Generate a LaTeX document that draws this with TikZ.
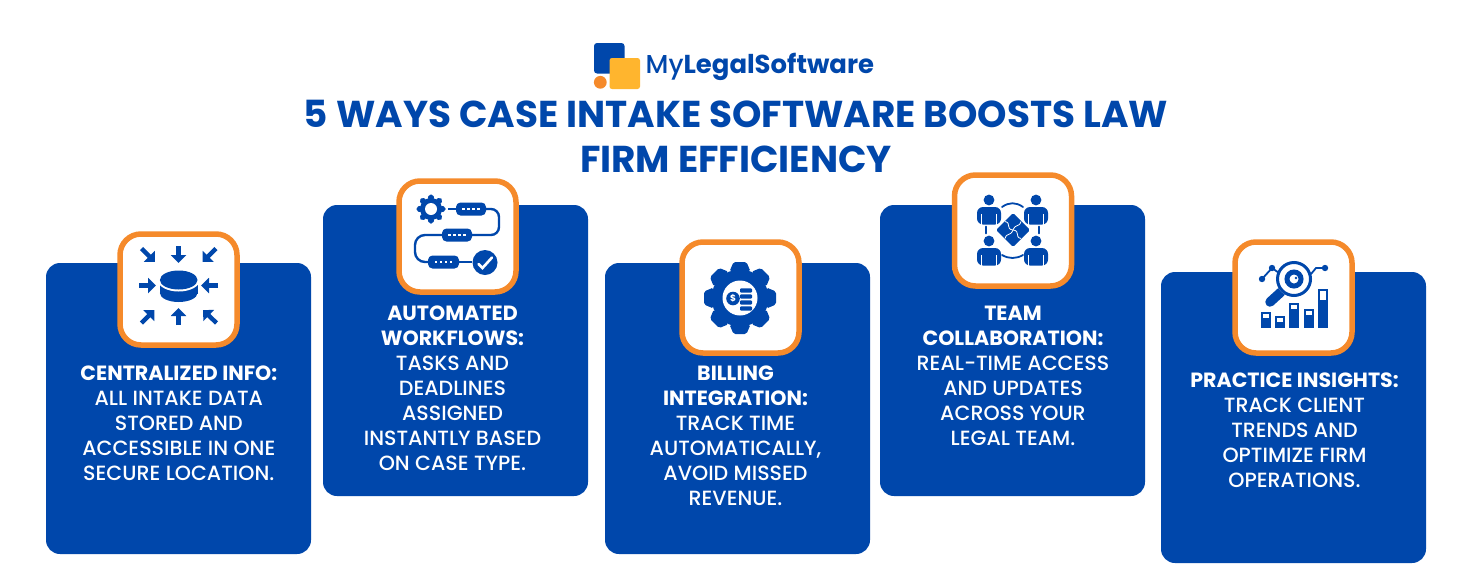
\documentclass[tikz,border=0pt]{standalone}
\usepackage{fontspec}
\setmainfont{Poppins}[UprightFont=*-Medium,BoldFont=*-Bold]
\usetikzlibrary{arrows.meta}
\definecolor{cobalt}{HTML}{0047AB}
\definecolor{ringor}{HTML}{F58A2B}
\definecolor{logoy}{HTML}{FFB52E}
\tikzset{
  x=1pt,y=-1pt,
  cardbox/.style={anchor=north west,inner sep=0pt,outer sep=0pt,fill=cobalt,rounded corners=14pt,minimum width=265pt,minimum height=291pt},
  iconbox/.style={anchor=north west,inner sep=0pt,outer sep=0pt,draw=ringor,fill=white,line width=5.5pt,rounded corners=21pt,minimum width=117pt,minimum height=111pt},
  cardtext/.style={text=white,align=center,inner sep=0pt,font=\fontsize{20.6}{25}\selectfont},
  icl/.style={draw=cobalt,line width=3pt},
  iar/.style={draw=cobalt,line width=4.4pt,-{Triangle[length=8pt,width=15pt,fill=cobalt]}},
  ithin/.style={draw=cobalt,line width=1.8pt,line cap=round},
  pill/.style={fill=cobalt,rounded corners=4.5pt},
}
\newcommand{\gearshape}[6]{% x y outer body basewidth tipwidth
  \fill[cobalt] (#1,#2) circle[radius=#4];
  \foreach \ang in {0,45,...,315}{
    \fill[cobalt,rotate around={\ang:(#1,#2)},rounded corners=1.8pt] (#1-#5/2,#2-#4+2) -- (#1-#6/2,#2-#3) -- (#1+#6/2,#2-#3) -- (#1+#5/2,#2-#4+2) -- cycle;
  }
}
\newcommand{\pillat}[3]{% x1 x2 y
  \fill[pill] (#1,#3-6.5) rectangle (#2,#3+6.5);
  \foreach \k in {0,1,2,3}{
    \fill[white] ({(#1+#2)/2-8.7+5*\k},#3-1.2) rectangle ++(2.4,2.4);
  }
}
\newcommand{\person}[2]{% head x, head y
  \fill[cobalt] (#1,#2) circle[radius=5.4];
  \fill[cobalt,rounded corners=6pt] (#1-12,#2+24.5) -- (#1-12,#2+7) -- (#1+12,#2+7) -- (#1+12,#2+24.5) -- cycle;
  \fill[white] (#1-7.6,#2+14) rectangle (#1-6.6,#2+25);
  \fill[white] (#1+6.6,#2+14) rectangle (#1+7.6,#2+25);
}
\newcommand{\barbox}[4]{% x1 x2 top window
  \fill[cobalt] (#1,#3) rectangle (#2,328);
  \fill[white] (#1+2,#3+2) rectangle (#2-2,#3+2+#4);
}
\begin{document}
\begin{tikzpicture}
\useasboundingbox (0,0) rectangle (1471,576);
\fill[white] (0,0) rectangle (1471,576);
% logo
\fill[cobalt,rounded corners=3pt] (594,43) rectangle (624.5,73.5);
\fill[logoy,rounded corners=2.5pt] (609.5,58) rectangle (640,89);
\fill[ringor] (600.3,82.3) circle[radius=6.4];
\node[anchor=west,inner sep=0pt,text=cobalt,font=\fontsize{25.9}{30}\selectfont] (brand) at (645.5,66.5) {My\textbf{LegalSoftware}};
% title
\node[text=cobalt,align=center,inner sep=0pt,font=\fontsize{37.4}{45}\selectfont\bfseries] (title) at (736,136.3) {5 WAYS CASE INTAKE SOFTWARE BOOSTS LAW\\FIRM EFFICIENCY};
% cards
\node[cardbox] (card1) at (46,263) {};
\node[cardbox] (card2) at (323,205) {};
\node[cardbox] (card3) at (605,263) {};
\node[cardbox] (card4) at (880,205) {};
\node[cardbox] (card5) at (1161,272) {};
% icon frames
\node[iconbox] (frame1) at (120,234) {};
\node[iconbox] (frame2) at (399,181) {};
\node[iconbox] (frame3) at (682,242) {};
\node[iconbox] (frame4) at (954.5,175) {};
\node[iconbox] (frame5) at (1235,242) {};
% texts
\node[cardtext] (text1) at (178.8,423) {\textbf{CENTRALIZED INFO:}\\ALL INTAKE DATA\\STORED AND\\ACCESSIBLE IN ONE\\SECURE LOCATION.};
\node[cardtext] (text2) at (452.5,388) {\textbf{AUTOMATED}\\\textbf{WORKFLOWS:}\\TASKS AND\\DEADLINES\\ASSIGNED\\INSTANTLY BASED\\ON CASE TYPE.};
\node[cardtext] (text3) at (735.5,435.5) {\textbf{BILLING}\\\textbf{INTEGRATION:}\\TRACK TIME\\AUTOMATICALLY,\\AVOID MISSED\\REVENUE.};
\node[cardtext] (text4) at (1013,375.5) {\textbf{TEAM}\\\textbf{COLLABORATION:}\\REAL-TIME ACCESS\\AND UPDATES\\ACROSS YOUR\\LEGAL TEAM.};
\node[cardtext] (text5) at (1294.5,430) {\textbf{PRACTICE INSIGHTS:}\\TRACK CLIENT\\TRENDS AND\\OPTIMIZE FIRM\\OPERATIONS.};
% icon 1
\draw[iar] (178.5,246) -- (178.5,263);
\draw[iar] (178.5,325) -- (178.5,308);
\draw[iar] (139,285.5) -- (156,285.5);
\draw[iar] (218,285.5) -- (201,285.5);
\draw[iar] (141.5,248.5) -- (155,262);
\draw[iar] (216,248.5) -- (202.5,262);
\draw[iar] (141.5,323) -- (154.5,310);
\draw[iar] (216.5,323) -- (203,310);
\fill[cobalt] (160,284) rectangle (197.5,294);
\fill[cobalt] (178.7,293) ellipse[x radius=18.8,y radius=9];
\fill[white] (178.7,280) ellipse[x radius=21,y radius=11.5];
\fill[cobalt] (178.7,280) ellipse[x radius=18.8,y radius=9.5];
% icon 2
\gearshape{431}{209}{14.5}{11}{7}{4.5}
\fill[white] (431,209) circle[radius=6];
\draw[icl,line width=2.2pt] (448,209) -- (456,209);
\draw[icl,line width=2.4pt,rounded corners=8pt] (486,209) -- (499,209) -- (499,235) -- (472,235);
\draw[icl,line width=2.4pt,rounded corners=10pt] (442,235) -- (415,235) -- (415,262) -- (428,262);
\draw[icl,line width=2.2pt] (459,262) -- (472,262);
\pillat{456}{486}{209}
\pillat{442}{472}{235}
\pillat{428}{459}{262}
\fill[cobalt] (485,262.5) circle[radius=12.5];
\draw[white,line width=2.6pt,line cap=round] (478.5,264) -- (482.5,268) -- (492,257.5);
% icon 3
\gearshape{740}{298}{36}{28.5}{21}{13}
\fill[white] (740,298) circle[radius=17.5];
\fill[cobalt] (733,298.5) circle[radius=6.8];
\node[text=white,inner sep=0pt,font=\fontsize{9}{9}\selectfont\bfseries] (dollar) at (733,298.5) {\$};
\foreach \yy in {288.3,294.3,300.3,306.3}{\fill[cobalt,rounded corners=1pt] (740,\yy) rectangle (752,\yy+4.4);}
% icon 4
\person{989}{200}
\person{1036}{200}
\person{989}{241}
\person{1036}{241}
\fill[cobalt,rounded corners=1.5pt] (1013,213) -- (1030,230) -- (1013,247) -- (996,230) -- cycle;
\draw[white,line width=0.8pt] (1005,221.5) .. controls (1012,223) and (1005,229) .. (1013,230) .. controls (1021,231) and (1014,237) .. (1021,238.5);
\draw[white,line width=0.8pt] (1021,221.5) .. controls (1019,228) and (1016,223) .. (1013,230) .. controls (1010,237) and (1007,232) .. (1005,238.5);
\draw[ithin] (1002,207) .. controls (1009,202) and (1016,202) .. (1023,207);
\draw[ithin] (1002,255) .. controls (1009,259) and (1016,259) .. (1023,255);
\draw[ithin] (986,226.5) -- (986,233.5);
\draw[ithin] (1039,226.5) -- (1039,233.5);
% icon 5
\draw[cobalt,line width=9.5pt,line cap=round] (1281,292) -- (1270,302);
\fill[white] (1294,279) circle[radius=18];
\draw[cobalt,line width=3pt] (1294,279) circle[radius=16.5];
\draw[cobalt,line width=5pt] (1294,279) circle[radius=7];
\fill[cobalt] (1296,278) circle[radius=1.3];
\draw[ithin] (1262,279) -- (1272,268) -- (1279,273);
\draw[ithin] (1325,268) -- (1316,268) -- (1311,274);
\fill[cobalt] (1262,279) circle[radius=3.2];
\fill[cobalt] (1272,268) circle[radius=3.2];
\fill[cobalt] (1325,268) circle[radius=3.2];
\barbox{1261}{1270.5}{312}{3.5}
\barbox{1275}{1285}{316}{3.5}
\barbox{1289}{1299}{303}{3.5}
\barbox{1303.5}{1314}{309}{3.5}
\barbox{1318}{1328}{289}{9}
\end{tikzpicture}
\end{document}
